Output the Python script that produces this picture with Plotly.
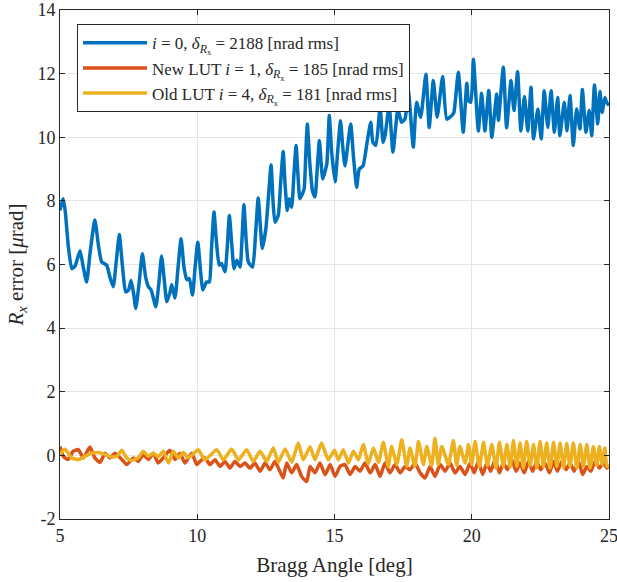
import plotly.graph_objects as go

# i = 0 (no LUT)
angle_i0 = [5.0, 5.12, 5.2, 5.3, 5.43, 5.55, 5.73, 5.85, 5.97, 6.1, 6.27, 6.4, 6.52, 6.7, 6.82, 6.94,
            7.05, 7.16, 7.27, 7.39, 7.5, 7.59, 7.68, 7.76, 7.88, 8.0, 8.12, 8.22, 8.32, 8.49, 8.6, 8.7,
            8.8, 8.89, 9.0, 9.07, 9.19, 9.3, 9.41, 9.52, 9.62, 9.71, 9.83, 9.92, 10.02, 10.12, 10.2,
            10.34, 10.44, 10.52, 10.61, 10.7, 10.8, 10.89, 11.01, 11.09, 11.17, 11.26, 11.34, 11.44,
            11.56, 11.63, 11.7, 11.78, 11.86, 12.02, 12.12, 12.22, 12.3, 12.37, 12.5, 12.6, 12.69,
            12.76, 12.83, 12.95, 13.04, 13.13, 13.2, 13.28, 13.35, 13.44, 13.52, 13.6, 13.67, 13.74,
            13.89, 13.95, 14.01, 14.1, 14.2, 14.29, 14.37, 14.45, 14.57, 14.72, 14.81, 14.9, 15.02,
            15.12, 15.22, 15.3, 15.38, 15.49, 15.59, 15.7, 15.81, 15.9, 16.04, 16.18, 16.32, 16.4,
            16.51, 16.66, 16.77, 16.85, 16.99, 17.13, 17.31, 17.44, 17.57, 17.69, 17.87, 17.99, 18.14,
            18.33, 18.45, 18.6, 18.74, 18.94, 19.09, 19.27, 19.35, 19.51, 19.69, 19.82, 19.88, 19.97,
            20.06, 20.24, 20.36, 20.48, 20.62, 20.73, 20.91, 20.97, 21.15, 21.27, 21.43, 21.54, 21.67,
            21.79, 21.92, 22.04, 22.16, 22.25, 22.41, 22.53, 22.64, 22.77, 22.89, 23.01, 23.13, 23.21,
            23.37, 23.47, 23.58, 23.7, 23.82, 23.94, 24.03, 24.16, 24.28, 24.37, 24.47, 24.59, 24.67,
            24.75, 24.85, 24.91, 25.0]
rx_i0 = [7.7, 8.07, 7.6, 6.6, 5.87, 5.95, 6.43, 5.9, 5.45, 6.4, 7.4, 6.6, 6.08, 5.98, 5.6, 5.3,
         6.1, 6.94, 6.0, 5.14, 5.2, 5.5, 5.1, 4.62, 5.4, 6.34, 5.6, 5.3, 5.2, 4.67, 5.4, 6.27,
         5.5, 4.83, 5.1, 5.37, 4.95, 5.9, 6.81, 5.9, 5.52, 5.56, 5.04, 5.9, 6.7, 5.8, 5.2,
         5.45, 5.45, 6.5, 7.65, 6.7, 5.98, 6.03, 5.77, 6.5, 7.54, 6.6, 5.87, 6.13,
         5.92, 6.8, 7.88, 6.8, 6.08, 5.92, 6.9, 8.09, 7.2, 6.5, 7.13, 8.2, 9.13,
         8.0, 7.33, 7.54, 8.6, 9.55, 8.5, 7.7, 8.07, 7.8, 8.8, 9.74, 8.8, 8.07,
         8.36, 9.4, 10.42, 9.2, 8.3, 8.12, 9.0, 9.9, 8.69, 9.17, 10.68, 9.5, 8.6,
         9.6, 10.52, 9.7, 9.1, 9.8, 10.42, 9.3, 8.43, 9.0, 9.1, 9.8, 10.47, 9.84,
         9.75, 10.94, 9.84, 10.1, 11.0, 9.53, 10.89, 10.47, 10.58, 11.46, 9.69, 11.1, 10.63,
         11.98, 10.31, 11.78, 10.63, 11.91, 10.57, 10.68, 10.78, 12.04, 10.16, 11.7, 11.15, 11.1,
         12.45, 10.2, 11.38, 10.2, 11.47, 10.0, 11.36, 10.53, 12.2, 10.3, 11.78, 10.84, 12.06,
         10.2, 11.28, 10.2, 11.57, 9.95, 10.89, 9.95, 11.46, 10.31, 11.46, 10.16, 11.25, 10.05,
         11.1, 10.2, 11.31, 9.74, 10.89, 10.26, 11.5, 10.16, 10.84, 10.05, 11.64, 10.42, 11.44,
         10.78, 11.25, 11.1, 11.0]

# New LUT i = 1
angle_new = [5.0, 5.12, 5.3, 5.48, 5.67, 5.85, 6.09, 6.27, 6.46, 6.64, 6.82, 7.0, 7.25, 7.43, 7.67,
             7.85, 8.03, 8.22, 8.4, 8.58, 8.76, 9.0, 9.19, 9.37, 9.55, 9.8, 9.98, 10.1, 10.28, 10.46,
             10.65, 10.83, 11.01, 11.19, 11.37, 11.56, 11.74, 11.92, 12.1, 12.29, 12.47, 12.65, 12.83,
             13.01, 13.13, 13.26, 13.44, 13.62, 13.8, 13.99, 14.11, 14.29, 14.47, 14.66, 14.84, 15.02,
             15.2, 15.38, 15.57, 15.75, 15.93, 16.11, 16.3, 16.48, 16.66, 16.84, 17.02, 17.21, 17.39,
             17.57, 17.75, 17.93, 18.12, 18.3, 18.48, 18.66, 18.85, 19.03, 19.21, 19.39, 19.57, 19.76,
             19.94, 20.09, 20.24, 20.4, 20.55, 20.69, 20.85, 21.01, 21.15, 21.3, 21.46, 21.62, 21.76,
             21.91, 22.07, 22.22, 22.37, 22.51, 22.67, 22.83, 22.98, 23.12, 23.28, 23.44, 23.58, 23.73,
             23.89, 24.04, 24.19, 24.34, 24.49, 24.65, 24.8, 24.92, 25.0]
rx_new = [0.28, -0.03, -0.13, 0.13, 0.18, -0.08, 0.26, -0.08, -0.22, 0.07, -0.08, 0.07, -0.13, -0.29,
          -0.08, -0.19, 0.02, -0.13, 0.07, -0.24, -0.08, 0.16, -0.13, 0.07, -0.24, 0.07, -0.29, -0.19,
          -0.08, -0.29, -0.14, -0.35, -0.19, -0.4, -0.19, -0.35, -0.24, -0.4, -0.24, -0.5, -0.24,
          -0.45, -0.19, -0.5, -0.71, -0.24, -0.55, -0.29, -0.66, -0.82, -0.35, -0.55, -0.24, -0.61,
          -0.29, -0.66, -0.35, -0.29, -0.6, -0.35, -0.5, -0.24, -0.55, -0.29, -0.66, -0.24, -0.55,
          -0.29, -0.55, -0.35, -0.45, -0.24, -0.55, -0.71, -0.35, -0.66, -0.29, -0.5, -0.24, -0.55,
          -0.35, -0.6, -0.24, -0.55, -0.19, -0.6, -0.24, -0.5, -0.14, -0.55, -0.24, -0.45, -0.14,
          -0.5, -0.24, -0.55, -0.19, -0.5, -0.19, -0.45, -0.24, -0.55, -0.19, -0.5, -0.19, -0.45,
          -0.24, -0.5, -0.19, -0.6, -0.35, -0.5, -0.19, -0.4, -0.24, -0.4, -0.3]

# Old LUT i = 4
angle_old = [5.0, 5.18, 5.43, 5.67, 5.91, 6.15, 6.4, 6.64, 6.88, 7.07, 7.25, 7.43, 7.61, 7.85, 8.03,
             8.22, 8.4, 8.58, 8.76, 8.95, 9.13, 9.31, 9.49, 9.67, 9.92, 10.04, 10.28, 10.71, 10.95,
             11.25, 11.5, 11.8, 12.04, 12.29, 12.53, 12.77, 12.95, 13.2, 13.44, 13.68, 13.86, 14.11,
             14.29, 14.53, 14.77, 15.0, 15.14, 15.32, 15.51, 15.69, 15.87, 16.05, 16.23, 16.42, 16.6,
             16.78, 16.96, 17.08, 17.27, 17.45, 17.63, 17.75, 17.93, 18.06, 18.24, 18.36, 18.54, 18.66,
             18.78, 18.91, 19.15, 19.33, 19.45, 19.57, 19.76, 19.88, 20.0, 20.12, 20.28, 20.43, 20.57,
             20.73, 20.88, 21.01, 21.15, 21.28, 21.4, 21.52, 21.64, 21.76, 21.88, 22.0, 22.13, 22.25,
             22.37, 22.49, 22.61, 22.73, 22.85, 22.98, 23.1, 23.22, 23.34, 23.46, 23.58, 23.7, 23.83,
             23.95, 24.07, 24.19, 24.31, 24.43, 24.55, 24.65, 24.75, 24.85, 24.92, 25.0]
rx_old = [0.03, 0.19, -0.08, -0.13, -0.03, 0.07, 0.09, 0.03, -0.05, -0.03, 0.16, -0.08, -0.16, -0.08,
          0.13, -0.03, 0.07, -0.05, 0.13, -0.24, 0.13, -0.08, 0.09, -0.08, 0.1, 0.18, -0.14, 0.18,
          -0.14, 0.2, -0.14, 0.18, -0.19, 0.13, -0.19, 0.24, -0.22, 0.2, -0.22, 0.39, -0.14, 0.27,
          -0.14, 0.39, -0.14, 0.16, -0.14, 0.18, -0.24, 0.13, -0.14, 0.34, -0.26, 0.23, -0.22,
          0.41, -0.35, 0.28, -0.29, 0.49, -0.35, 0.23, -0.35, 0.44, -0.29, 0.28, -0.32, 0.54,
          -0.29, 0.28, -0.29, 0.47, -0.32, 0.28, -0.24, 0.34, -0.29, 0.44, -0.35, 0.41, -0.32,
          0.34, -0.4, 0.41, -0.35, 0.34, -0.37, 0.47, -0.35, 0.39, -0.4, 0.44, -0.32, 0.34,
          -0.4, 0.44, -0.35, 0.39, -0.4, 0.41, -0.35, 0.39, -0.4, 0.37, -0.35, 0.39, -0.4,
          0.34, -0.35, 0.34, -0.4, 0.28, -0.32, 0.28, -0.29, 0.23, -0.35, -0.3]

y_ticks = [-2, 0, 2, 4, 6, 8, 10, 12, 14]
x_ticks = [5, 10, 15, 20, 25]

serif = "Liberation Serif"
dR = "<i>δ</i><sub><i>R</i><sub>x</sub></sub>"

fig = go.Figure()
fig.add_trace(go.Scatter(x=angle_i0, y=rx_i0, mode='lines',
                         line=dict(color='#0072BD', width=3.5, shape='spline', smoothing=0.5),
                         name="<i>i</i> = 0, " + dR + " = 2188 [nrad rms]"))
fig.add_trace(go.Scatter(x=angle_new, y=rx_new, mode='lines',
                         line=dict(color='#D95319', width=3.5, shape='spline', smoothing=0.5),
                         name="New LUT <i>i</i> = 1, " + dR + " = 185 [nrad rms]"))
fig.add_trace(go.Scatter(x=angle_old, y=rx_old, mode='lines',
                         line=dict(color='#EDB120', width=3.5, shape='spline', smoothing=0.5),
                         name="Old LUT <i>i</i> = 4, " + dR + " = 181 [nrad rms]"))

axis_style = dict(showline=True, linecolor='#262626', linewidth=1, mirror='ticks',
                  ticks='inside', ticklen=5, tickcolor='#262626', automargin=False,
                  ticklabeloverflow='allow',
                  showgrid=True, gridcolor='#e5e5e5', gridwidth=1, zeroline=False,
                  tickfont=dict(family=serif, size=18, color='#262626'))

fig.update_xaxes(range=[5, 25], tickvals=x_ticks, ticktext=[str(v) for v in x_ticks],
                 title=dict(text="Bragg Angle [deg]", font=dict(family=serif, size=21, color='#262626'),
                            standoff=12),
                 **axis_style)
fig.update_yaxes(range=[-2, 14], tickvals=y_ticks, ticktext=[str(v) for v in y_ticks],
                 title=dict(text="<i>R</i><sub><i>x</i></sub> error [<i>μ</i>rad]",
                            font=dict(family=serif, size=21, color='#262626'), standoff=8),
                 **axis_style)

fig.update_layout(
    width=617, height=582,
    margin=dict(l=60, r=8, t=10, b=63),
    plot_bgcolor='white', paper_bgcolor='white',
    showlegend=True,
    legend=dict(x=0.031, y=0.972, xanchor='left', yanchor='top',
                bgcolor='white', bordercolor='#262626', borderwidth=1,
                font=dict(family=serif, size=17, color='#262626'),
                itemwidth=64, tracegroupgap=0),
)

# page body has a default 8px margin, drop it so the figure sits at the window corner
fig.write_html("out.html", config={'displayModeBar': False},
               post_script="document.body.style.margin='0';")
